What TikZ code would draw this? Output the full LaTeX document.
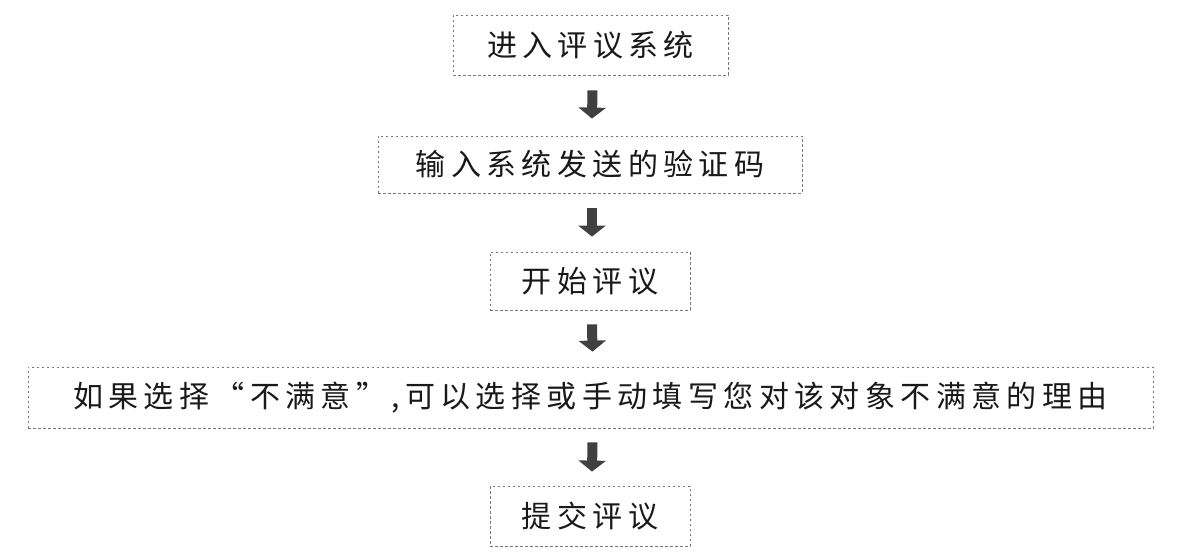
\documentclass[tikz,border=0pt]{standalone}
\usepackage{fontspec}
\newfontfamily\cjk[LetterSpace=18]{Noto Sans CJK SC}
\usetikzlibrary{arrows.meta}
\definecolor{dashgray}{RGB}{120,120,120}
\definecolor{arrowgray}{RGB}{64,64,64}
\definecolor{textcol}{RGB}{25,25,25}
\tikzset{
  stepbox/.style={draw=dashgray, line width=0.8pt, dash pattern=on 2.5pt off 2.5pt,
    inner sep=0pt, text=textcol, font=\cjk\fontsize{30pt}{34pt}\selectfont},
  blockarrow/.style={draw=arrowgray, line width=10pt,
    -{Triangle[width=27pt,length=11pt]}}
}
\begin{document}
\begin{tikzpicture}[x=1pt,y=-1pt]
\useasboundingbox (0,0) rectangle (1187,556);
\node[stepbox, minimum width=275pt, minimum height=60pt] (n1) at (590.5,45) {进入评议系统};
\node[stepbox, minimum width=424pt, minimum height=57pt] (n2) at (590,164.5) {输入系统发送的验证码};
\node[stepbox, minimum width=200pt, minimum height=58pt] (n3) at (590,281) {开始评议};
\node[stepbox, minimum width=1125pt, minimum height=61pt] (n4) at (590.5,397.5) {如果选择“不满意”,\,可以选择或手动填写您对该对象不满意的理由};
\node[stepbox, minimum width=200pt, minimum height=60pt] (n5) at (590,516) {提交评议};
\draw[blockarrow] ([xshift=2pt,yshift=-15pt]n1.south) -- ([xshift=2pt,yshift=17pt]n2.north);
\draw[blockarrow] ([xshift=2pt,yshift=-15pt]n2.south) -- ([xshift=2pt,yshift=15pt]n3.north);
\draw[blockarrow] ([xshift=2pt,yshift=-14pt]n3.south) -- ([xshift=2pt,yshift=15pt]n4.north);
\draw[blockarrow] ([xshift=2pt,yshift=-14pt]n4.south) -- ([xshift=2pt,yshift=14pt]n5.north);
\end{tikzpicture}
\end{document}
